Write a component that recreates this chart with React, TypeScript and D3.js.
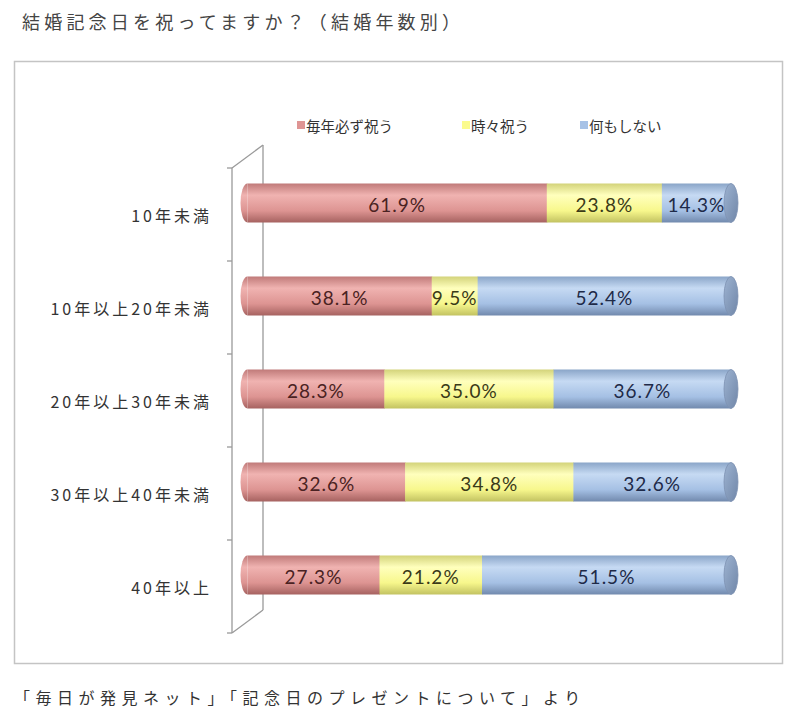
import * as d3 from "d3";

const categories = [
  "10年未満",
  "10年以上20年未満",
  "20年以上30年未満",
  "30年以上40年未満",
  "40年以上",
];
const seriesNames = ["毎年必ず祝う", "時々祝う", "何もしない"];
const always = [61.9, 38.1, 28.3, 32.6, 27.3];
const sometimes = [23.8, 9.5, 35.0, 34.8, 21.2];
const nothing = [14.3, 52.4, 36.7, 32.6, 51.5];

const keys = ["always", "sometimes", "nothing"];
const colors = ["#df9594", "#fbfb8e", "#a7c2e6"];
const grads = [
  ["#c07a79", "#f0b3b1", "#dd9492", "#a66260"],
  ["#d3d37a", "#ffffbd", "#f7f78c", "#c2c261"],
  ["#8aa5c8", "#c6daf3", "#a5c0e4", "#7189ad"],
];
const labelColors = ["#4a2222", "#3a3a18", "#1e2a48"];

export default function App() {
  const width = 800;
  const height = 719;
  const depthX = 31;
  const depthY = -23;
  const r = 19.5;
  const capRx = 7;

  const rows = categories.map((c, i) => ({
    cat: c,
    always: always[i],
    sometimes: sometimes[i],
    nothing: nothing[i],
  }));
  const stacked = d3.stack<any>().keys(keys)(rows);

  const y = d3.scaleBand().domain(categories).range([168, 633]);
  const x = d3.scaleLinear().domain([0, 100]).range([232 + depthX / 2, 731]);
  const fmt = d3.format(".1f");

  const axisX = 232;
  const [top, bottom] = y.range();
  const ticks = [...categories.map((c) => y(c)!), bottom];

  return (
    <svg
      width={width}
      height={height}
      style={{ position: "absolute", left: 0, top: 0, background: "#fff" }}
    >
      <defs>
        {grads.map((g, i) => (
          <linearGradient key={i} id={"g" + i} x1="0" y1="0" x2="0" y2="1">
            <stop offset="0" stopColor={g[0]} />
            <stop offset="0.3" stopColor={g[1]} />
            <stop offset="0.7" stopColor={g[2]} />
            <stop offset="1" stopColor={g[3]} />
          </linearGradient>
        ))}
        <linearGradient id="cap" x1="0" y1="0" x2="1" y2="1">
          <stop offset="0" stopColor="#9db3d1" />
          <stop offset="1" stopColor="#7086a8" />
        </linearGradient>
      </defs>

      <text
        x={22}
        y={29}
        fontFamily="'Noto Sans CJK JP', sans-serif"
        fontSize={18}
        letterSpacing={4.2}
        fill="#444"
      >
        結婚記念日を祝ってますか？（結婚年数別）
      </text>

      <rect
        x={14.5}
        y={61.5}
        width={768}
        height={602}
        fill="#fff"
        stroke="#c4c4c4"
        strokeWidth={1.5}
      />

      {/* legend */}
      {seriesNames.map((s, i) => {
        const lx = [297, 462, 580][i];
        return (
          <g key={s}>
            <rect x={lx} y={121} width={8} height={8} fill={colors[i]} />
            <text
              x={lx + 9}
              y={125}
              dominantBaseline="central"
              fontFamily="'Noto Sans CJK JP', sans-serif"
              fontSize={14.5}
              fill="#333"
            >
              {s}
            </text>
          </g>
        );
      })}

      {/* 3d wall */}
      <g stroke="#9a9a9a" strokeWidth={1.3} fill="none">
        <line x1={axisX} y1={top} x2={axisX} y2={bottom} />
        <line x1={axisX + depthX} y1={top + depthY} x2={axisX + depthX} y2={bottom + depthY} />
        <line x1={axisX} y1={top} x2={axisX + depthX} y2={top + depthY} />
        <line x1={axisX} y1={bottom} x2={axisX + depthX} y2={bottom + depthY} />
        {ticks.map((t, i) => (
          <line key={i} x1={axisX - 5} y1={t} x2={axisX} y2={t} />
        ))}
      </g>

      {/* category labels */}
      {categories.map((c) => (
        <text
          key={c}
          x={212}
          y={y(c)! + y.bandwidth() / 2}
          textAnchor="end"
          dominantBaseline="central"
          fontFamily="'Noto Sans CJK JP', sans-serif"
          fontSize={16}
          letterSpacing={3}
          fill="#333"
        >
          {c}
        </text>
      ))}

      {/* cylinders */}
      {categories.map((c, ci) => {
        const cy = y(c)! + y.bandwidth() / 2 + depthY / 2;
        const x0 = x(0);
        const x1 = x(100);
        return (
          <g key={c}>
            <path
              d={`M${x0},${cy - r} A${capRx},${r} 0 0 0 ${x0},${cy + r} Z`}
              fill="url(#g0)"
            />
            {stacked.map((s, si) => {
              const d = s[ci];
              return (
                <rect
                  key={si}
                  x={x(d[0])}
                  y={cy - r}
                  width={x(d[1]) - x(d[0]) + 0.5}
                  height={r * 2}
                  fill={`url(#g${si})`}
                />
              );
            })}
            <ellipse
              cx={x1}
              cy={cy}
              rx={capRx}
              ry={r}
              fill="url(#cap)"
              stroke="#7d92b2"
              strokeWidth={0.8}
            />
            {stacked.map((s, si) => {
              const d = s[ci];
              return (
                <text
                  key={"t" + si}
                  x={(x(d[0]) + x(d[1])) / 2}
                  y={cy + 1}
                  textAnchor="middle"
                  dominantBaseline="central"
                  fontFamily="Lato, sans-serif"
                  fontSize={19}
                  letterSpacing={1}
                  fill={labelColors[si]}
                >
                  {fmt(d[1] - d[0]) + "%"}
                </text>
              );
            })}
          </g>
        );
      })}

      <text
        x={14}
        y={697}
        dominantBaseline="central"
        fontFamily="'Noto Sans CJK JP', sans-serif"
        fontSize={16}
        letterSpacing={5.5}
        fill="#333"
      >
        「毎日が発見ネット」「記念日のプレゼントについて」より
      </text>
    </svg>
  );
}
